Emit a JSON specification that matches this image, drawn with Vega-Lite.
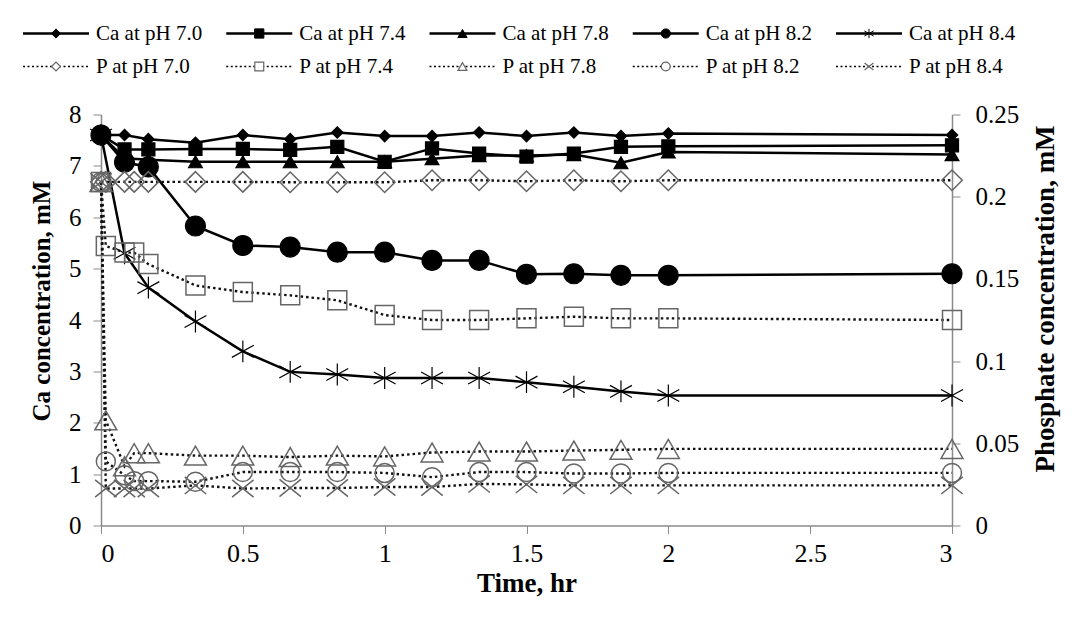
{
  "$schema": "https://vega.github.io/schema/vega-lite/v6.json",
  "padding": {"left": 21, "top": 17, "right": 5, "bottom": 5},
  "background": "white",
  "bounds": "flush",
  "spacing": 31.5,
  "config": {
    "view": {"stroke": null},
    "font": "Times New Roman",
    "text": {"font": "Times New Roman"},
    "axis": {"grid": false, "domainColor": "#8a8a8a", "tickColor": "#8a8a8a", "labelColor": "black", "titleColor": "black", "labelFont": "Times New Roman", "titleFont": "Times New Roman", "labelFontSize": 25, "titleFontSize": 27, "titleFontWeight": "bold", "tickSize": 8, "domainWidth": 1.5}
  },
  "datasets": {
    "legend": [
      {"series": "Ca at pH 7.0", "element": "Ca", "ph": "7.0"},
      {"series": "Ca at pH 7.4", "element": "Ca", "ph": "7.4"},
      {"series": "Ca at pH 7.8", "element": "Ca", "ph": "7.8"},
      {"series": "Ca at pH 8.2", "element": "Ca", "ph": "8.2"},
      {"series": "Ca at pH 8.4", "element": "Ca", "ph": "8.4"},
      {"series": "P at pH 7.0", "element": "P", "ph": "7.0"},
      {"series": "P at pH 7.4", "element": "P", "ph": "7.4"},
      {"series": "P at pH 7.8", "element": "P", "ph": "7.8"},
      {"series": "P at pH 8.2", "element": "P", "ph": "8.2"},
      {"series": "P at pH 8.4", "element": "P", "ph": "8.4"}
    ],
    "ca": [
      {"series": "Ca at pH 7.0", "t": 0, "v": 7.6}, {"series": "Ca at pH 7.0", "t": 0.083, "v": 7.6}, {"series": "Ca at pH 7.0", "t": 0.167, "v": 7.52}, {"series": "Ca at pH 7.0", "t": 0.333, "v": 7.45}, {"series": "Ca at pH 7.0", "t": 0.5, "v": 7.6}, {"series": "Ca at pH 7.0", "t": 0.667, "v": 7.52}, {"series": "Ca at pH 7.0", "t": 0.833, "v": 7.65}, {"series": "Ca at pH 7.0", "t": 1, "v": 7.58}, {"series": "Ca at pH 7.0", "t": 1.167, "v": 7.58}, {"series": "Ca at pH 7.0", "t": 1.333, "v": 7.65}, {"series": "Ca at pH 7.0", "t": 1.5, "v": 7.58}, {"series": "Ca at pH 7.0", "t": 1.667, "v": 7.65}, {"series": "Ca at pH 7.0", "t": 1.833, "v": 7.58}, {"series": "Ca at pH 7.0", "t": 2, "v": 7.63}, {"series": "Ca at pH 7.0", "t": 3, "v": 7.6},
      {"series": "Ca at pH 7.4", "t": 0, "v": 7.6}, {"series": "Ca at pH 7.4", "t": 0.083, "v": 7.32}, {"series": "Ca at pH 7.4", "t": 0.167, "v": 7.32}, {"series": "Ca at pH 7.4", "t": 0.333, "v": 7.33}, {"series": "Ca at pH 7.4", "t": 0.5, "v": 7.33}, {"series": "Ca at pH 7.4", "t": 0.667, "v": 7.31}, {"series": "Ca at pH 7.4", "t": 0.833, "v": 7.37}, {"series": "Ca at pH 7.4", "t": 1, "v": 7.08}, {"series": "Ca at pH 7.4", "t": 1.167, "v": 7.34}, {"series": "Ca at pH 7.4", "t": 1.333, "v": 7.24}, {"series": "Ca at pH 7.4", "t": 1.5, "v": 7.18}, {"series": "Ca at pH 7.4", "t": 1.667, "v": 7.24}, {"series": "Ca at pH 7.4", "t": 1.833, "v": 7.37}, {"series": "Ca at pH 7.4", "t": 2, "v": 7.38}, {"series": "Ca at pH 7.4", "t": 3, "v": 7.4},
      {"series": "Ca at pH 7.8", "t": 0, "v": 7.6}, {"series": "Ca at pH 7.8", "t": 0.083, "v": 7.15}, {"series": "Ca at pH 7.8", "t": 0.167, "v": 7.12}, {"series": "Ca at pH 7.8", "t": 0.333, "v": 7.08}, {"series": "Ca at pH 7.8", "t": 0.5, "v": 7.08}, {"series": "Ca at pH 7.8", "t": 0.667, "v": 7.08}, {"series": "Ca at pH 7.8", "t": 0.833, "v": 7.08}, {"series": "Ca at pH 7.8", "t": 1, "v": 7.08}, {"series": "Ca at pH 7.8", "t": 1.167, "v": 7.14}, {"series": "Ca at pH 7.8", "t": 1.333, "v": 7.2}, {"series": "Ca at pH 7.8", "t": 1.5, "v": 7.2}, {"series": "Ca at pH 7.8", "t": 1.667, "v": 7.22}, {"series": "Ca at pH 7.8", "t": 1.833, "v": 7.06}, {"series": "Ca at pH 7.8", "t": 2, "v": 7.27}, {"series": "Ca at pH 7.8", "t": 3, "v": 7.22},
      {"series": "Ca at pH 8.2", "t": 0, "v": 7.6}, {"series": "Ca at pH 8.2", "t": 0.083, "v": 7.07}, {"series": "Ca at pH 8.2", "t": 0.167, "v": 6.98}, {"series": "Ca at pH 8.2", "t": 0.333, "v": 5.83}, {"series": "Ca at pH 8.2", "t": 0.5, "v": 5.45}, {"series": "Ca at pH 8.2", "t": 0.667, "v": 5.42}, {"series": "Ca at pH 8.2", "t": 0.833, "v": 5.32}, {"series": "Ca at pH 8.2", "t": 1, "v": 5.32}, {"series": "Ca at pH 8.2", "t": 1.167, "v": 5.16}, {"series": "Ca at pH 8.2", "t": 1.333, "v": 5.16}, {"series": "Ca at pH 8.2", "t": 1.5, "v": 4.89}, {"series": "Ca at pH 8.2", "t": 1.667, "v": 4.9}, {"series": "Ca at pH 8.2", "t": 1.833, "v": 4.87}, {"series": "Ca at pH 8.2", "t": 2, "v": 4.87}, {"series": "Ca at pH 8.2", "t": 3, "v": 4.9},
      {"series": "Ca at pH 8.4", "t": 0, "v": 7.6}, {"series": "Ca at pH 8.4", "t": 0.083, "v": 5.3}, {"series": "Ca at pH 8.4", "t": 0.167, "v": 4.63}, {"series": "Ca at pH 8.4", "t": 0.333, "v": 3.97}, {"series": "Ca at pH 8.4", "t": 0.5, "v": 3.39}, {"series": "Ca at pH 8.4", "t": 0.667, "v": 2.99}, {"series": "Ca at pH 8.4", "t": 0.833, "v": 2.94}, {"series": "Ca at pH 8.4", "t": 1, "v": 2.87}, {"series": "Ca at pH 8.4", "t": 1.167, "v": 2.87}, {"series": "Ca at pH 8.4", "t": 1.333, "v": 2.87}, {"series": "Ca at pH 8.4", "t": 1.5, "v": 2.79}, {"series": "Ca at pH 8.4", "t": 1.667, "v": 2.7}, {"series": "Ca at pH 8.4", "t": 1.833, "v": 2.61}, {"series": "Ca at pH 8.4", "t": 2, "v": 2.53}, {"series": "Ca at pH 8.4", "t": 3, "v": 2.53}
    ],
    "p": [
      {"series": "P at pH 7.0", "t": 0, "v": 0.209}, {"series": "P at pH 7.0", "t": 0.017, "v": 0.209}, {"series": "P at pH 7.0", "t": 0.083, "v": 0.209}, {"series": "P at pH 7.0", "t": 0.117, "v": 0.209}, {"series": "P at pH 7.0", "t": 0.167, "v": 0.209}, {"series": "P at pH 7.0", "t": 0.333, "v": 0.209}, {"series": "P at pH 7.0", "t": 0.5, "v": 0.209}, {"series": "P at pH 7.0", "t": 0.667, "v": 0.2088}, {"series": "P at pH 7.0", "t": 0.833, "v": 0.2088}, {"series": "P at pH 7.0", "t": 1, "v": 0.2088}, {"series": "P at pH 7.0", "t": 1.167, "v": 0.21}, {"series": "P at pH 7.0", "t": 1.333, "v": 0.21}, {"series": "P at pH 7.0", "t": 1.5, "v": 0.2094}, {"series": "P at pH 7.0", "t": 1.667, "v": 0.21}, {"series": "P at pH 7.0", "t": 1.833, "v": 0.2094}, {"series": "P at pH 7.0", "t": 2, "v": 0.21}, {"series": "P at pH 7.0", "t": 3, "v": 0.21},
      {"series": "P at pH 7.4", "t": 0, "v": 0.209}, {"series": "P at pH 7.4", "t": 0.017, "v": 0.17}, {"series": "P at pH 7.4", "t": 0.083, "v": 0.166}, {"series": "P at pH 7.4", "t": 0.117, "v": 0.166}, {"series": "P at pH 7.4", "t": 0.167, "v": 0.159}, {"series": "P at pH 7.4", "t": 0.333, "v": 0.146}, {"series": "P at pH 7.4", "t": 0.5, "v": 0.142}, {"series": "P at pH 7.4", "t": 0.667, "v": 0.14}, {"series": "P at pH 7.4", "t": 0.833, "v": 0.137}, {"series": "P at pH 7.4", "t": 1, "v": 0.128}, {"series": "P at pH 7.4", "t": 1.167, "v": 0.125}, {"series": "P at pH 7.4", "t": 1.333, "v": 0.125}, {"series": "P at pH 7.4", "t": 1.5, "v": 0.126}, {"series": "P at pH 7.4", "t": 1.667, "v": 0.127}, {"series": "P at pH 7.4", "t": 1.833, "v": 0.126}, {"series": "P at pH 7.4", "t": 2, "v": 0.126}, {"series": "P at pH 7.4", "t": 3, "v": 0.125},
      {"series": "P at pH 7.8", "t": 0, "v": 0.209}, {"series": "P at pH 7.8", "t": 0.017, "v": 0.064}, {"series": "P at pH 7.8", "t": 0.083, "v": 0.036}, {"series": "P at pH 7.8", "t": 0.117, "v": 0.044}, {"series": "P at pH 7.8", "t": 0.167, "v": 0.044}, {"series": "P at pH 7.8", "t": 0.333, "v": 0.0425}, {"series": "P at pH 7.8", "t": 0.5, "v": 0.0425}, {"series": "P at pH 7.8", "t": 0.667, "v": 0.0416}, {"series": "P at pH 7.8", "t": 0.833, "v": 0.0425}, {"series": "P at pH 7.8", "t": 1, "v": 0.042}, {"series": "P at pH 7.8", "t": 1.167, "v": 0.0444}, {"series": "P at pH 7.8", "t": 1.333, "v": 0.045}, {"series": "P at pH 7.8", "t": 1.5, "v": 0.045}, {"series": "P at pH 7.8", "t": 1.667, "v": 0.0456}, {"series": "P at pH 7.8", "t": 1.833, "v": 0.046}, {"series": "P at pH 7.8", "t": 2, "v": 0.0466}, {"series": "P at pH 7.8", "t": 3, "v": 0.0466},
      {"series": "P at pH 8.2", "t": 0, "v": 0.209}, {"series": "P at pH 8.2", "t": 0.017, "v": 0.039}, {"series": "P at pH 8.2", "t": 0.083, "v": 0.0306}, {"series": "P at pH 8.2", "t": 0.117, "v": 0.027}, {"series": "P at pH 8.2", "t": 0.167, "v": 0.027}, {"series": "P at pH 8.2", "t": 0.333, "v": 0.0266}, {"series": "P at pH 8.2", "t": 0.5, "v": 0.0325}, {"series": "P at pH 8.2", "t": 0.667, "v": 0.0325}, {"series": "P at pH 8.2", "t": 0.833, "v": 0.0325}, {"series": "P at pH 8.2", "t": 1, "v": 0.032}, {"series": "P at pH 8.2", "t": 1.167, "v": 0.0294}, {"series": "P at pH 8.2", "t": 1.333, "v": 0.0325}, {"series": "P at pH 8.2", "t": 1.5, "v": 0.0325}, {"series": "P at pH 8.2", "t": 1.667, "v": 0.0316}, {"series": "P at pH 8.2", "t": 1.833, "v": 0.0316}, {"series": "P at pH 8.2", "t": 2, "v": 0.032}, {"series": "P at pH 8.2", "t": 3, "v": 0.032},
      {"series": "P at pH 8.4", "t": 0, "v": 0.209}, {"series": "P at pH 8.4", "t": 0.017, "v": 0.0225}, {"series": "P at pH 8.4", "t": 0.083, "v": 0.0225}, {"series": "P at pH 8.4", "t": 0.117, "v": 0.0225}, {"series": "P at pH 8.4", "t": 0.167, "v": 0.0225}, {"series": "P at pH 8.4", "t": 0.333, "v": 0.0244}, {"series": "P at pH 8.4", "t": 0.5, "v": 0.0225}, {"series": "P at pH 8.4", "t": 0.667, "v": 0.0228}, {"series": "P at pH 8.4", "t": 0.833, "v": 0.0228}, {"series": "P at pH 8.4", "t": 1, "v": 0.0234}, {"series": "P at pH 8.4", "t": 1.167, "v": 0.0234}, {"series": "P at pH 8.4", "t": 1.333, "v": 0.0253}, {"series": "P at pH 8.4", "t": 1.5, "v": 0.025}, {"series": "P at pH 8.4", "t": 1.667, "v": 0.0244}, {"series": "P at pH 8.4", "t": 1.833, "v": 0.0244}, {"series": "P at pH 8.4", "t": 2, "v": 0.0244}, {"series": "P at pH 8.4", "t": 3, "v": 0.0244}
    ]
  },
  "vconcat": [
    {
      "width": 813,
      "height": 66,
      "data": {"name": "legend"},
      "encoding": {
        "x": {"field": "ph", "type": "ordinal", "scale": {"type": "point", "padding": 0}, "axis": null},
        "y": {"field": "element", "type": "ordinal", "scale": {"type": "point", "padding": 0.5}, "axis": null}
      },
      "layer": [
        {
          "mark": {"type": "rule", "xOffset": -78, "x2Offset": -12, "color": "black"},
          "encoding": {
            "x2": {"field": "ph"},
            "strokeDash": {"field": "element", "type": "nominal", "scale": {"domain": ["Ca", "P"], "range": [[1, 0], [2, 2.5]]}, "legend": null},
            "strokeWidth": {"field": "element", "type": "nominal", "scale": {"type": "ordinal", "domain": ["Ca", "P"], "range": [2.5, 1.6]}, "legend": null}
          }
        },
        {
          "transform": [{"filter": "datum.element == 'Ca'"}],
          "mark": {"type": "point", "xOffset": -45, "filled": true, "color": "black", "stroke": "black", "strokeWidth": 1, "opacity": 1, "size": 85},
          "encoding": {
            "shape": {"field": "series", "type": "nominal", "scale": {"domain": ["Ca at pH 7.0", "Ca at pH 7.4", "Ca at pH 7.8", "Ca at pH 8.2", "Ca at pH 8.4", "P at pH 7.0", "P at pH 7.4", "P at pH 7.8", "P at pH 8.2", "P at pH 8.4"], "range": ["diamond", "square", "triangle-up", "circle", "M0,-1V1M-1,-0.55L1,0.55M-1,0.55L1,-0.55", "diamond", "square", "triangle-up", "circle", "M-1,-0.8L1,0.8M-1,0.8L1,-0.8"]}, "legend": null}
          }
        },
        {
          "transform": [{"filter": "datum.element == 'P'"}],
          "mark": {"type": "point", "xOffset": -45, "filled": false, "fill": "white", "stroke": "#666666", "strokeWidth": 1.2, "opacity": 1, "size": 80},
          "encoding": {
            "shape": {"field": "series", "type": "nominal", "legend": null}
          }
        },
        {
          "mark": {"type": "text", "xOffset": -5, "align": "left", "baseline": "middle", "font": "Times New Roman", "fontSize": 21, "fontWeight": "normal", "color": "black"},
          "encoding": {"text": {"field": "series", "type": "nominal"}}
        }
      ]
    },
    {
      "width": 851,
      "height": 411,
      "layer": [
        {
          "data": {"name": "ca"},
          "encoding": {
            "x": {"field": "t", "type": "quantitative", "scale": {"domain": [0, 3], "nice": false}, "axis": {"values": [0, 0.5, 1, 1.5, 2, 2.5, 3], "format": "~g", "title": "Time, hr", "labelFontSize": 26, "labelPadding": 7, "titlePadding": 4}},
            "y": {"field": "v", "type": "quantitative", "scale": {"domain": [0, 8], "nice": false}, "axis": {"orient": "left", "values": [0, 1, 2, 3, 4, 5, 6, 7, 8], "format": "d", "title": "Ca concentration, mM", "titleFontSize": 25, "titleY": 186, "labelPadding": 12, "titlePadding": 14}}
          },
          "layer": [
            {"mark": {"type": "line", "color": "black", "strokeWidth": 2.5}, "encoding": {"detail": {"field": "series"}}},
            {
              "mark": {"type": "point", "filled": true, "color": "black", "stroke": "black", "strokeWidth": 1.2, "opacity": 1},
              "encoding": {
                "shape": {"field": "series", "type": "nominal", "scale": {"domain": ["Ca at pH 7.0", "Ca at pH 7.4", "Ca at pH 7.8", "Ca at pH 8.2", "Ca at pH 8.4", "P at pH 7.0", "P at pH 7.4", "P at pH 7.8", "P at pH 8.2", "P at pH 8.4"], "range": ["diamond", "square", "triangle-up", "circle", "M0,-1V1M-1,-0.55L1,0.55M-1,0.55L1,-0.55", "diamond", "square", "triangle-up", "circle", "M-1,-0.8L1,0.8M-1,0.8L1,-0.8"]}, "legend": null},
                "size": {"field": "series", "type": "nominal", "scale": {"type": "ordinal", "domain": ["Ca at pH 7.0", "Ca at pH 7.4", "Ca at pH 7.8", "Ca at pH 8.2", "Ca at pH 8.4", "P at pH 7.0", "P at pH 7.4", "P at pH 7.8", "P at pH 8.2", "P at pH 8.4"], "range": [130, 170, 190, 400, 480, 420, 360, 480, 360, 460]}, "legend": null}
              }
            }
          ]
        },
        {
          "data": {"name": "p"},
          "encoding": {
            "x": {"field": "t", "type": "quantitative"},
            "y": {"field": "v", "type": "quantitative", "scale": {"domain": [0, 0.25], "nice": false}, "axis": {"orient": "right", "values": [0, 0.05, 0.1, 0.15, 0.2, 0.25], "format": "~g", "title": "Phosphate concentration, mM", "titleAngle": 270, "titleBaseline": "top", "titleY": 184, "labelPadding": 15, "titlePadding": 14}}
          },
          "layer": [
            {"mark": {"type": "line", "color": "#111111", "strokeWidth": 2.4, "strokeDash": [2.5, 3]}, "encoding": {"detail": {"field": "series"}}},
            {
              "mark": {"type": "point", "filled": false, "stroke": "#666666", "strokeWidth": 1.5, "opacity": 1},
              "encoding": {
                "shape": {"field": "series", "type": "nominal", "legend": null},
                "size": {"field": "series", "type": "nominal", "scale": {"type": "ordinal", "domain": ["Ca at pH 7.0", "Ca at pH 7.4", "Ca at pH 7.8", "Ca at pH 8.2", "Ca at pH 8.4", "P at pH 7.0", "P at pH 7.4", "P at pH 7.8", "P at pH 8.2", "P at pH 8.4"], "range": [130, 170, 190, 400, 480, 420, 360, 480, 360, 460]}, "legend": null}
              }
            }
          ]
        }
      ],
      "resolve": {"scale": {"y": "independent"}}
    }
  ],
  "resolve": {"scale": {"x": "independent", "y": "independent"}}
}
